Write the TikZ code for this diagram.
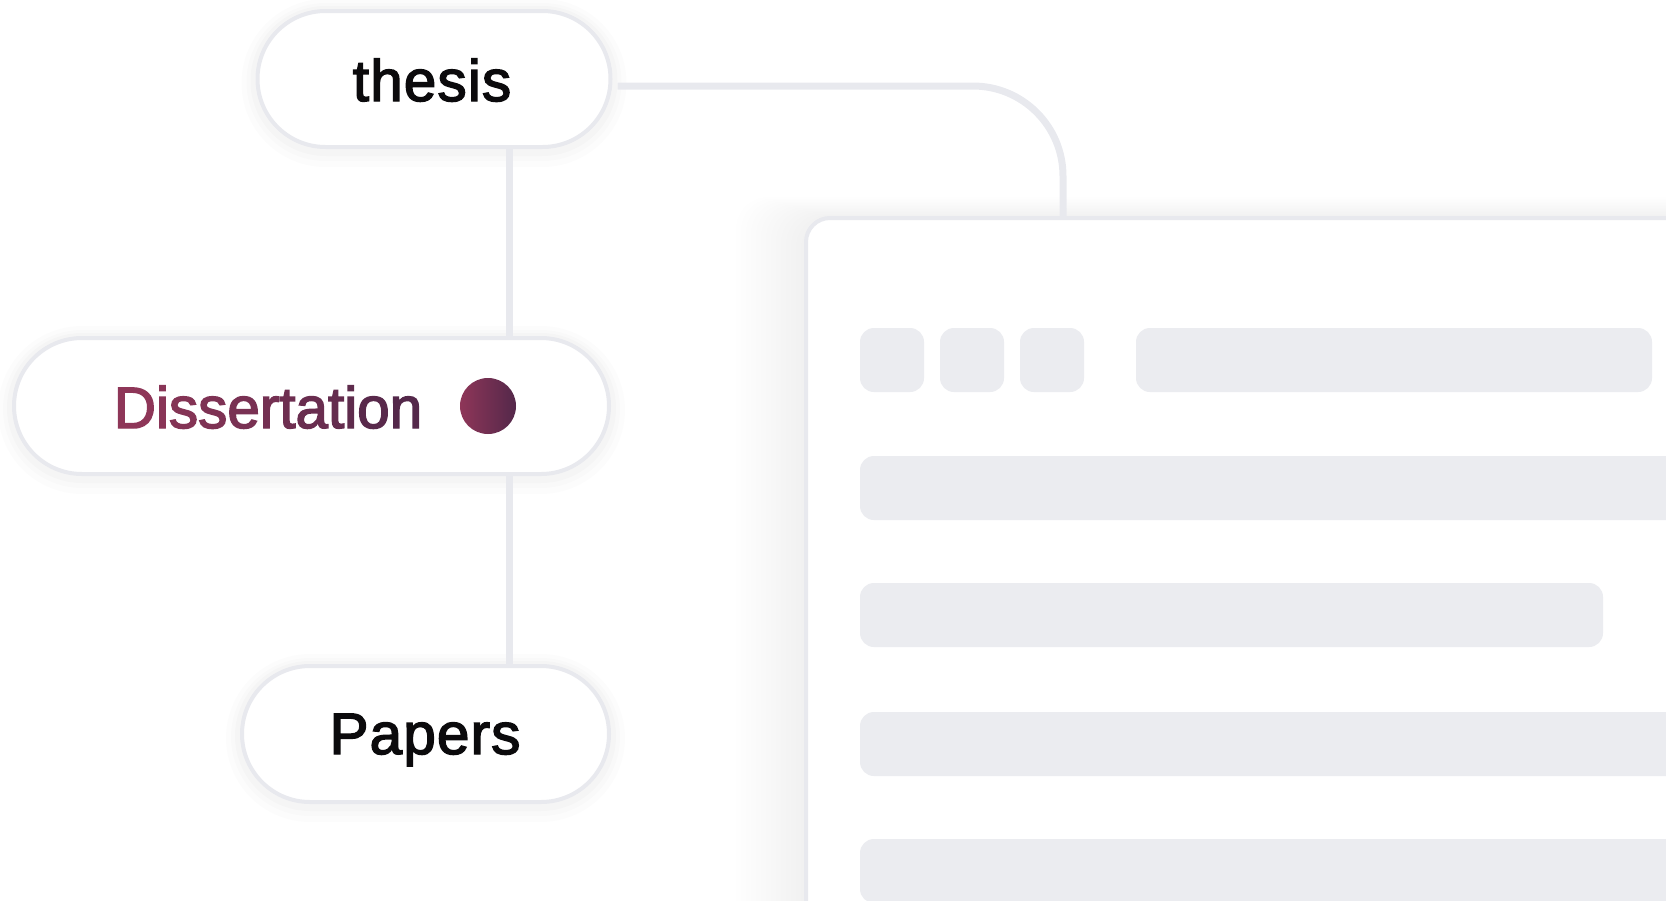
\documentclass[tikz,border=0pt]{standalone}
\usepackage{fontspec}
\setmainfont{Liberation Sans}
\newfontfamily\lblfont{Liberation Sans}[FakeBold=2.5,LetterSpace=2]
\definecolor{lineg}{HTML}{E8E9EE}
\definecolor{barg}{HTML}{EBECF0}
\definecolor{dl}{HTML}{8E3658}
\definecolor{dr}{HTML}{54284A}
\definecolor{ink}{HTML}{0B0A0C}
\begin{document}
\begin{tikzpicture}[x=0.5pt,y=-0.5pt,
  pill/.style={draw=lineg, line width=2pt, fill=white, rounded corners=34pt,
    minimum height=68pt, inner sep=0pt,
    preaction={draw=black, opacity=0.010, line width=16pt, transform canvas={yshift=-2pt}},
    preaction={draw=black, opacity=0.012, line width=11pt, transform canvas={yshift=-1.5pt}},
    preaction={draw=black, opacity=0.015, line width=7pt, transform canvas={yshift=-1pt}}},
  conn/.style={draw=lineg, line width=3.5pt},
  blk/.style={fill=barg, rounded corners=7pt},
  lbl/.style={font=\lblfont\fontsize{29.2pt}{32pt}\selectfont, inner sep=0pt, text=ink, anchor=base}]
\useasboundingbox (0,0) rectangle (1666,900);

% window shadow
\foreach \i in {1,...,14}{
  \fill[black, opacity=0.0026, rounded corners=16pt] (806-5*\i,218-1.5*\i) rectangle (1800,1000);
}
% window
\node[draw=lineg, line width=2pt, fill=white, rounded corners=12pt,
      minimum width=497pt, minimum height=391pt, inner sep=0pt] (win) at (1303,609) {};

% window content
\fill[blk] (860,328) rectangle (924,392);
\fill[blk] (940,328) rectangle (1004,392);
\fill[blk] (1020,328) rectangle (1084,392);
\fill[blk] (1136,328) rectangle (1652,392);
\fill[blk] (860,456) rectangle (1720,520);
\fill[blk] (860,583) rectangle (1603,647);
\fill[blk] (860,712) rectangle (1720,776);
\fill[blk] (860,839) rectangle (1720,903);

% pills
\node[pill, minimum width=176.5pt] (thesis) at (434,79) {};
\node[pill, minimum width=297.5pt] (diss) at (311.5,406) {};
\node[pill, minimum width=183.5pt] (papers) at (425.5,734) {};

% labels
\node[lbl] (tl) at (432,101) {thesis};
\node[lbl] (pl) at (425,754) {Papers};
\node[lbl] (dlab) at (268,428) {%
\textcolor{dl}{D}%
\textcolor{dl!91!dr}{i}%
\textcolor{dl!82!dr}{s}%
\textcolor{dl!73!dr}{s}%
\textcolor{dl!64!dr}{e}%
\textcolor{dl!55!dr}{r}%
\textcolor{dl!45!dr}{t}%
\textcolor{dl!36!dr}{a}%
\textcolor{dl!27!dr}{t}%
\textcolor{dl!18!dr}{i}%
\textcolor{dl!9!dr}{o}%
\textcolor{dr}{n}};
\node[circle, minimum size=28pt, inner sep=0pt, left color=dl, right color=dr] (dot) at (488,406) {};

% connectors
\coordinate (vx) at (509,0);
\coordinate (cx) at (1063,0);
\draw[conn] (thesis.south -| vx) -- (diss.north -| vx);
\draw[conn] (diss.south -| vx) -- (papers.north -| vx);
\draw[conn, rounded corners=45pt] ([xshift=2.5pt,yshift=-3.5pt]thesis.east) -| (win.north -| cx);
\end{tikzpicture}
\end{document}
